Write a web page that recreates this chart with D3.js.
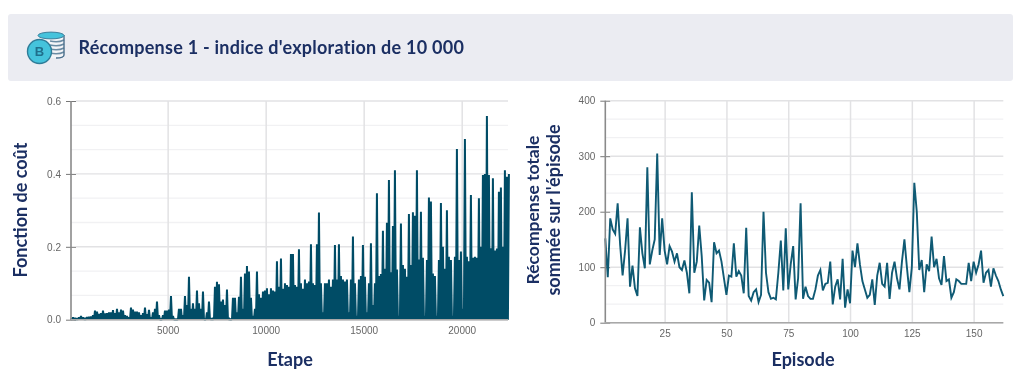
<!DOCTYPE html>
<html lang="fr">
<head>
<meta charset="utf-8">
<script src="https://cdn.jsdelivr.net/npm/d3@7"></script>
<style>
  html, body { margin: 0; padding: 0; background: #fff; }
  svg { display: block; filter: blur(0.45px); }
  .tick text { font-family: "Liberation Sans", Arial, sans-serif; font-size: 10px; fill: #666; }
  .axis-title { font-family: Lato, "Open Sans", sans-serif; font-weight: 700; fill: #1b2f63; }
</style>
</head>
<body>
<div id="chart"></div>
<script>
const titleText = "Récompense 1 - indice d'exploration de 10 000";

// Fonction de coût: one reading every lossStride steps, from lossFirstStep on
const lossFirstStep = 70;
const lossStride = 102;
const lossValues = [
  .004, .006, .005, .004, .006, .010, .006, .005, .007, .008, .009, .012,
  .025, .022, .016, .018, .025, .017, .018, .020, .020, .026, .018, .030, .020, .028, .025, .012, .010, .006,
  .033, .028, .022, .022, .020, .012, .018, .033, .015, .027, .006, .020, .030, .050, .012, .003, .012, .025, .025, .028,
  .065, .010, .002, .002, .030, .030, .012, .065, .040, .118, .030, .045, .030, .080, .045, .030, .077, .002, .020, .050,
  .004, .005, .090, .104, .097, .050, .055, .040, .083, .005, .002, .060, .060, .020, .063, .118, .030, .127, .147, .132,
  .060, .010, .030, .132, .070, .060, .077, .080, .086, .070, .086, .080, .077, .160, .090, .168, .085, .100, .095, .090,
  .180, .180, .095, .090, .193, .100, .085, .110, .100, .105, .207, .100, .095, .207, .294, .100, .020, .100, .100, .110,
  .090, .110, .205, .110, .207, .120, .110, .105, .110, .020, .110, .228, .100, .010, .110, .120, .205, .118, .020, .100,
  .210, .040, .100, .347, .120, .125, .244, .140, .266, .383, .130, .257, .410, .138, .010, .264, .150, .140, .118, .290,
  .150, .295, .285, .410, .165, .296, .170, .010, .164, .335, .324, .127, .120, .010, .164, .320, .200, .140, .300, .173,
  .164, .010, .173, .468, .164, .187, .030, .496, .173, .160, .342, .170, .173, .170, .333, .200, .397, .400, .559, .397,
  .196, .388, .190, .195, .351, .363, .200, .410, .392, .400
];
const lossEnd = 0.21;
const lossYTicks = [0, 0.2, 0.4, 0.6];
const lossYMinor = [0.0667, 0.1333, 0.2667, 0.3333, 0.4667, 0.5333];
const lossXTicks = [5000, 10000, 15000, 20000];

// Récompense totale, episodes 1 to 162
const rewardValues = [
  152, 82, 188, 168, 160, 215, 140, 85, 130, 188, 65, 103, 62, 48, 172, 125, 98, 280, 105, 130,
  150, 305, 122, 188, 130, 105, 138, 128, 110, 125, 100, 95, 112, 90, 53, 235, 90, 110, 175, 120,
  40, 77, 72, 37, 145, 125, 130, 110, 80, 50, 85, 83, 143, 83, 93, 85, 53, 171, 48, 40,
  55, 60, 37, 50, 200, 90, 55, 43, 45, 42, 90, 148, 58, 170, 60, 105, 138, 42, 80, 215,
  43, 65, 48, 43, 43, 60, 85, 95, 58, 70, 72, 110, 33, 65, 78, 42, 115, 27, 60, 35,
  130, 100, 143, 105, 75, 60, 45, 50, 78, 32, 85, 108, 70, 65, 108, 43, 90, 110, 80, 60,
  110, 150, 100, 55, 100, 252, 200, 95, 113, 55, 105, 93, 155, 100, 115, 80, 68, 120, 75, 78,
  45, 55, 78, 75, 70, 70, 70, 108, 75, 110, 90, 105, 130, 72, 90, 95, 65, 98, 85, 75,
  60, 48
];
const rewardYTicks = [0, 100, 200, 300, 400];
const rewardYMinor = [33.3, 66.7, 133.3, 166.7, 233.3, 266.7, 333.3, 366.7];
const rewardXTicks = [25, 50, 75, 100, 125, 150];

const width = 1024;
const height = 379;
const lineColor = '#004c66';
const titleColor = '#1b2f63';

const svg = d3.select('#chart').append('svg')
  .attr('width', width)
  .attr('height', height);

// Bandeau du titre
svg.append('rect')
  .attr('x', 8).attr('y', 14)
  .attr('width', 1005).attr('height', 67)
  .attr('rx', 3)
  .attr('fill', '#ebecf2');

svg.append('text')
  .attr('x', 78.5).attr('y', 53.5)
  .attr('font-family', 'Lato, "Open Sans", sans-serif')
  .attr('font-weight', 700)
  .attr('font-size', 18)
  .attr('letter-spacing', 0.25)
  .attr('fill', titleColor)
  .text(titleText);

// Icone: pile de pieces
const icon = svg.append('g');
icon.append('path')
  .attr('d', 'M38 35 V58 H64 V35 Z')
  .attr('fill', '#f4f5f8');
[41, 45, 49, 53].forEach(y => {
  icon.append('path')
    .attr('d', `M50 ${y} q8 2 14 -1`)
    .attr('fill', 'none').attr('stroke', '#6a8ba3').attr('stroke-width', 1.4);
});
icon.append('path')
  .attr('d', 'M64 35 V55 Q64 58 56 58')
  .attr('fill', 'none').attr('stroke', '#4a6f8c').attr('stroke-width', 1.4);
icon.append('ellipse')
  .attr('cx', 51).attr('cy', 35.5).attr('rx', 13).attr('ry', 3.4)
  .attr('fill', '#45c3dc').attr('stroke', '#3f7f9c').attr('stroke-width', 1);
icon.append('circle')
  .attr('cx', 39.5).attr('cy', 51.5).attr('r', 12)
  .attr('fill', '#45c3dc').attr('stroke', '#2f7c98').attr('stroke-width', 1.4);
icon.append('text')
  .attr('x', 39.5).attr('y', 56)
  .attr('text-anchor', 'middle')
  .attr('font-family', '"Liberation Sans", sans-serif')
  .attr('font-weight', 700).attr('font-size', 13)
  .attr('fill', '#1f6f8c')
  .text('B');

function drawFrame(x, y, xTicks, yTicks, yMinor) {
  const [left, right] = x.range();
  const [bottom, top] = y.range();
  const g = svg.append('g');

  g.append('g').selectAll('line').data(yMinor).enter().append('line')
    .attr('x1', left).attr('x2', right)
    .attr('y1', d => y(d)).attr('y2', d => y(d))
    .attr('stroke', '#f1f1f3').attr('stroke-width', 1.3);

  const xAxis = g.append('g')
    .attr('transform', `translate(0,${bottom})`)
    .call(d3.axisBottom(x).tickValues(xTicks).tickFormat(d3.format('d')).tickSize(bottom - top).tickPadding(0));
  xAxis.select('.domain').remove();
  xAxis.selectAll('.tick line')
    .attr('y1', 0).attr('y2', top - bottom)
    .attr('stroke', '#e2e2e4').attr('stroke-width', 1.5);
  xAxis.selectAll('.tick text').attr('y', 0).attr('dy', '1.42em');

  const yAxis = g.append('g')
    .attr('transform', `translate(${left},0)`)
    .call(d3.axisLeft(y).tickValues(yTicks).tickFormat(d => d === 0 ? (yTicks[3] === 300 ? '0' : '0.0') : String(d)).tickSize(5).tickPadding(5));
  yAxis.select('.domain').remove();
  yAxis.selectAll('.tick line')
    .attr('x1', 5)
    .attr('stroke', '#777').attr('stroke-width', 1);

  g.append('g').selectAll('line').data(yTicks).enter().append('line')
    .attr('x1', left + 5).attr('x2', right)
    .attr('y1', d => y(d)).attr('y2', d => y(d))
    .attr('stroke', '#e2e2e4').attr('stroke-width', 1.4);

  return g;
}

function closeFrame(x, y) {
  const [left, right] = x.range();
  const [bottom, top] = y.range();
  svg.append('line')
    .attr('x1', left).attr('x2', left).attr('y1', top).attr('y2', bottom)
    .attr('stroke', '#8a8a8a').attr('stroke-width', 1.6);
  svg.append('line')
    .attr('x1', left).attr('x2', right).attr('y1', bottom).attr('y2', bottom)
    .attr('stroke', '#a8a8a8').attr('stroke-width', 1.4);
}

// Fonction de cout
const lossX = d3.scaleLinear().domain([70, 22362]).range([71, 508]);
const lossY = d3.scaleLinear().domain([0, 0.6]).range([319.7, 101]);
drawFrame(lossX, lossY, lossXTicks, lossYTicks, lossYMinor);

// each reading is a spike that falls back to the baseline before the next one
const lossPoints = [];
lossValues.forEach((v, i) => {
  const step = lossFirstStep + i * lossStride;
  lossPoints.push([step, v]);
  if (i < lossValues.length - 1) lossPoints.push([step + lossStride / 2, 0]);
});
lossPoints.push([22362, lossEnd]);

const lossLine = d3.line().x(d => lossX(d[0])).y(d => lossY(d[1]));
svg.append('path')
  .datum(lossPoints)
  .attr('d', lossLine)
  .attr('fill', 'none')
  .attr('stroke', lineColor)
  .attr('stroke-width', 2)
  .attr('stroke-linejoin', 'bevel');
closeFrame(lossX, lossY);

// Recompense totale
const rewardX = d3.scaleLinear().domain([1, 162]).range([605.3, 1003.3]);
const rewardY = d3.scaleLinear().domain([0, 400]).range([322.7, 100.7]);
drawFrame(rewardX, rewardY, rewardXTicks, rewardYTicks, rewardYMinor);

const rewardLine = d3.line().x((d, i) => rewardX(i + 1)).y(d => rewardY(d));
svg.append('path')
  .datum(rewardValues)
  .attr('d', rewardLine)
  .attr('fill', 'none')
  .attr('stroke', '#0f5a74')
  .attr('stroke-width', 1.9);
closeFrame(rewardX, rewardY);

// Titres des axes
function axisTitle(x, y, text, size, rotate) {
  svg.append('text')
    .attr('class', 'axis-title')
    .attr('text-anchor', 'middle')
    .attr('font-size', size)
    .attr('transform', `translate(${x},${y})` + (rotate ? ' rotate(-90)' : ''))
    .text(text);
}
axisTitle(27, 210, 'Fonction de coût', 18, true);
axisTitle(290, 366, 'Etape', 18, false);
axisTitle(539, 210, 'Récompense totale', 17.5, true);
axisTitle(560, 210, "sommée sur l'épisode", 18, true);
axisTitle(803, 366, 'Episode', 18, false);
</script>
</body>
</html>
